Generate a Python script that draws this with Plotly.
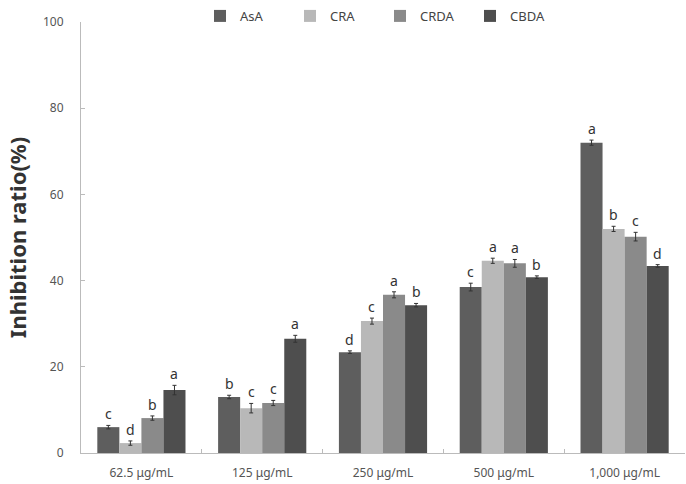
import plotly.graph_objects as go

categories = ["62.5 μg/mL", "125 μg/mL", "250 μg/mL", "500 μg/mL", "1,000 μg/mL"]
series_names = ["AsA", "CRA", "CRDA", "CBDA"]

asa = [6.0, 13.0, 23.4, 38.5, 72.0]
cra = [2.3, 10.4, 30.6, 44.6, 52.0]
crda = [8.1, 11.6, 36.7, 44.0, 50.2]
cbda = [14.6, 26.5, 34.3, 40.8, 43.4]

asa_err = [0.4, 0.4, 0.3, 0.9, 0.6]
cra_err = [0.5, 1.1, 0.7, 0.6, 0.6]
crda_err = [0.5, 0.6, 0.7, 0.9, 1.0]
cbda_err = [1.1, 0.8, 0.4, 0.3, 0.3]

asa_letters = ["c", "b", "d", "c", "a"]
cra_letters = ["d", "c", "c", "a", "b"]
crda_letters = ["b", "c", "a", "a", "c"]
cbda_letters = ["a", "a", "b", "b", "d"]

values = [asa, cra, crda, cbda]
errors = [asa_err, cra_err, crda_err, cbda_err]
letters = [asa_letters, cra_letters, crda_letters, cbda_letters]
colors = ["#5e5e5e", "#b8b8b8", "#8a8a8a", "#4e4e4e"]

bargap = 0.27

fig = go.Figure()
for name, v, e, c in zip(series_names, values, errors, colors):
    fig.add_trace(go.Bar(
        name=name, x=categories, y=v, marker=dict(color=c, line=dict(width=0)),
        error_y=dict(type="data", array=e, visible=True, color="#333333", thickness=1, width=2),
    ))

n = len(series_names)
group_w = 1 - bargap
for k in range(n):
    for i in range(len(categories)):
        xpos = i - group_w / 2 + (k + 0.5) * group_w / n
        fig.add_annotation(
            x=xpos, y=values[k][i] + errors[k][i], text=letters[k][i],
            showarrow=False, yanchor="bottom", yshift=0,
            font=dict(size=14, color="#333333"),
        )

fig.update_layout(
    width=686, height=484,
    margin=dict(l=81, r=1, t=22, b=31),
    barmode="group", bargap=bargap, bargroupgap=0,
    plot_bgcolor="white", paper_bgcolor="white",
    font=dict(family="Noto Sans, Open Sans, sans-serif", color="#555555", size=12),
    showlegend=True,
    legend=dict(orientation="h", x=0.197, y=1.014, xanchor="left", yanchor="middle",
                font=dict(size=13, color="#444444"), bgcolor="rgba(0,0,0,0)",
                entrywidth=45, entrywidthmode="pixels"),
    xaxis=dict(type="category", showline=True, linecolor="#bbbbbb", linewidth=1,
               ticks="inside", ticklen=4, tickcolor="#bbbbbb", tickson="boundaries",
               tickfont=dict(size=12, color="#555555"), range=[-0.5, 4.5],
               ticklabelstandoff=9),
    yaxis=dict(range=[0, 100], dtick=20, showline=True, linecolor="#bbbbbb", linewidth=1,
               ticks="inside", ticklen=4, tickcolor="#bbbbbb", showgrid=False, zeroline=False,
               tickfont=dict(size=12, color="#555555"), ticklabelstandoff=14,
               title=dict(text="<b>Inhibition ratio(%)</b>", font=dict(size=22, color="#333333"), standoff=10)),
)

fig.write_html("out.html")
